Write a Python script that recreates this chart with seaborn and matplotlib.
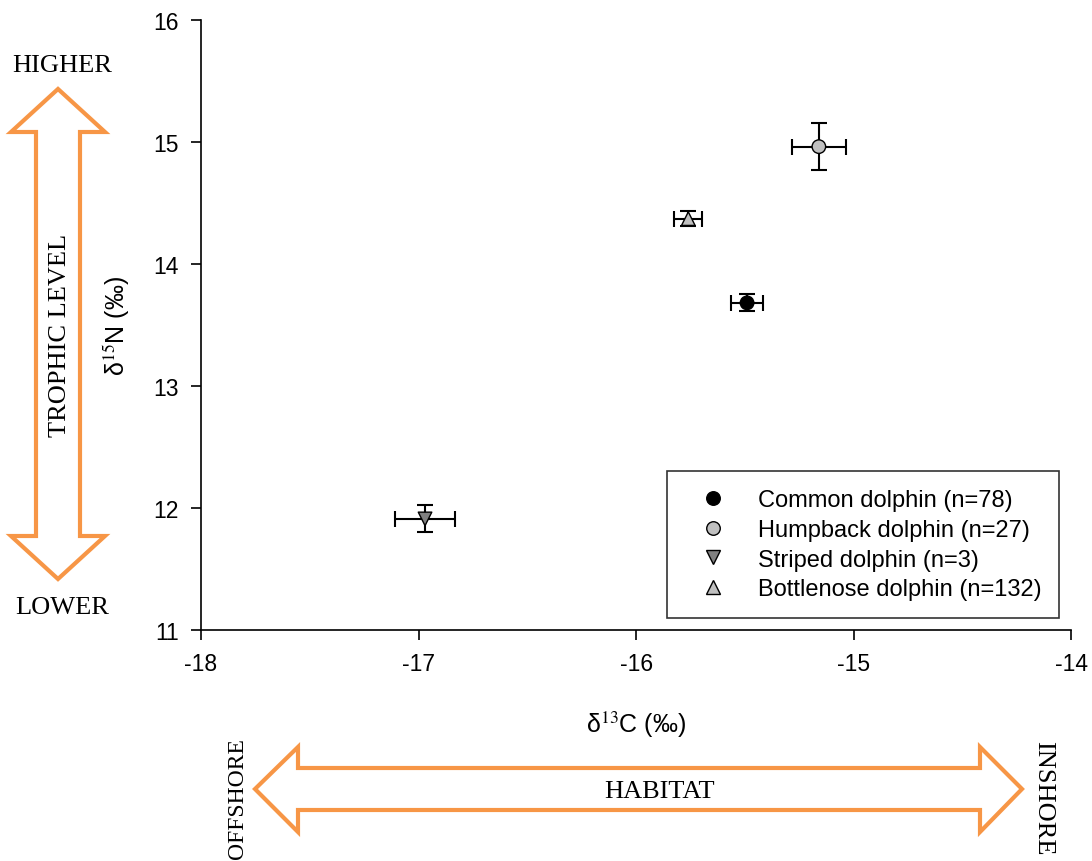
import seaborn as sns
import matplotlib.pyplot as plt
import pandas as pd
from matplotlib.patches import Polygon

# values
species = ['Common dolphin (n=78)', 'Humpback dolphin (n=27)',
           'Striped dolphin (n=3)', 'Bottlenose dolphin (n=132)']
d13c = [-15.49, -15.16, -16.97, -15.76]
d15n = [13.68, 14.96, 11.91, 14.37]
d13c_err = [0.075, 0.125, 0.14, 0.065]
d15n_err = [0.07, 0.19, 0.11, 0.06]
markers = ['o', 'o', 'v', '^']
colors = ['black', '#c0c0c0', '#808080', '#c0c0c0']
xticks = [-18, -17, -16, -15, -14]
yticks = [11, 12, 13, 14, 15, 16]

df = pd.DataFrame({'species': species, 'd13C': d13c, 'd15N': d15n,
                   'xerr': d13c_err, 'yerr': d15n_err})

sns.set_theme(style='ticks')
plt.rcParams['font.family'] = ['Liberation Sans', 'DejaVu Sans']
plt.rcParams['mathtext.fontset'] = 'stix'
plt.rcParams['text.color'] = 'black'
plt.rcParams['axes.labelcolor'] = 'black'

fig = plt.figure(figsize=(10.92, 8.62), dpi=100)
ax = fig.add_axes([0.184, 0.268, 0.797, 0.708])

ax.errorbar(df['d13C'], df['d15N'], xerr=df['xerr'], yerr=df['yerr'],
            fmt='none', ecolor='black', elinewidth=1.5, capsize=6,
            capthick=1.5, zorder=2)
sns.scatterplot(data=df, x='d13C', y='d15N', hue='species', style='species',
                palette=dict(zip(species, colors)),
                markers=dict(zip(species, markers)),
                s=95, edgecolor='black', linewidth=1, ax=ax, zorder=3)

ax.set_xlim(-18, -14)
ax.set_ylim(11, 16)
ax.set_xticks(xticks)
ax.set_xticklabels([str(t) for t in xticks])
ax.set_yticks(yticks)
ax.tick_params(labelsize=16.5, length=7, width=1.2, direction='out',
               colors='black', pad=9)
for s in ['top', 'right']:
    ax.spines[s].set_visible(False)
for s in ['left', 'bottom']:
    ax.spines[s].set_linewidth(1.2)
    ax.spines[s].set_color('black')

ax.set_xlabel('\u03b4$^{13}$C (\u2030)', fontsize=18, labelpad=24)
ax.set_ylabel('\u03b4$^{15}$N (\u2030)', fontsize=18, labelpad=15)

leg = ax.legend(loc='lower right', fontsize=17, frameon=True, fancybox=False,
                edgecolor='black', borderpad=0.75, handletextpad=0.7,
                handlelength=2.4, labelspacing=0.33, markerscale=1.0,
                borderaxespad=0.5)
leg.get_frame().set_linewidth(1.2)

# decorative arrows in figure pixel coordinates
ov = fig.add_axes([0, 0, 1, 1], facecolor='none')
ov.set_xlim(0, 1092)
ov.set_ylim(862, 0)
ov.axis('off')
orange = '#f79646'

vert = [(58, 90), (105, 133), (80, 133), (80, 537), (105, 537), (58, 580),
        (11, 537), (36, 537), (36, 133), (11, 133)]
horiz = [(255, 790), (298, 748), (298, 769), (980, 769), (980, 748),
         (1022, 790), (980, 833), (980, 811), (298, 811), (298, 833)]
for pts in (vert, horiz):
    ov.add_patch(Polygon(pts, closed=True, facecolor='white',
                         edgecolor=orange, linewidth=3, joinstyle='miter'))

serif = ['Liberation Serif', 'DejaVu Serif']
ov.text(62, 66, 'HIGHER', family=serif, fontsize=19, ha='center', va='center')
ov.text(62, 608, 'LOWER', family=serif, fontsize=19, ha='center', va='center')
ov.text(60, 335, 'TROPHIC LEVEL', family=serif, fontsize=19, rotation=90,
        ha='center', va='center')
ov.text(660, 792, 'HABITAT', family=serif, fontsize=19, ha='center', va='center')
ov.text(238, 799, 'OFFSHORE', family=serif, fontsize=17, rotation=90,
        ha='center', va='center')
ov.text(1043, 798, 'INSHORE', family=serif, fontsize=19, rotation=-90,
        ha='center', va='center')

fig.savefig('out.png', dpi=100)
